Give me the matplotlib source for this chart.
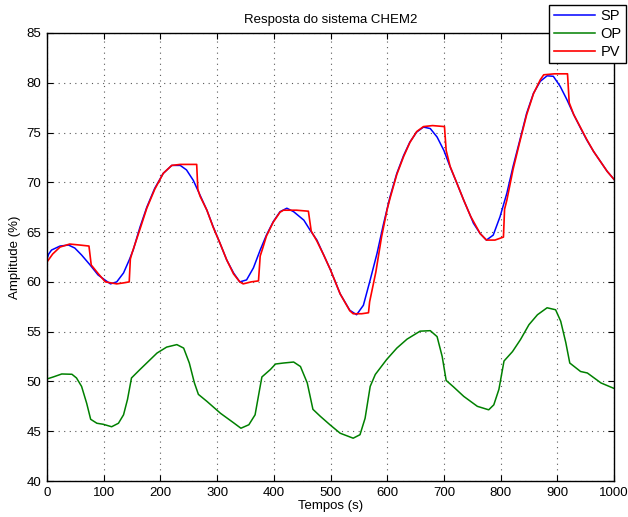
import matplotlib
matplotlib.use('Agg')
import matplotlib.pyplot as plt

plt.rcParams['font.family'] = ['Liberation Sans', 'DejaVu Sans']

# setpoint (SP)
sp_t = [0, 3, 8, 23, 38, 49, 61, 76, 90, 102, 112, 123, 135, 145, 152, 164, 176,
        190, 205, 220, 235, 246, 258, 270, 282, 293, 305, 317, 329, 340, 352, 364,
        376, 387, 399, 411, 423, 435, 453, 464, 476, 488, 500, 517, 534, 546, 558,
        570, 582, 593, 605, 617, 629, 640, 652, 664, 676, 688, 700, 711, 723, 735,
        747, 752, 764, 775, 787, 799, 811, 822, 834, 846, 858, 870, 882, 893, 905,
        917, 929, 941, 952, 964, 976, 988, 1000]
sp_v = [62.3, 62.8, 63.2, 63.6, 63.7, 63.4, 62.7, 61.7, 60.7, 60.2, 59.8, 60.0, 60.9,
        62.2, 63.2, 65.5, 67.5, 69.4, 70.9, 71.7, 71.7, 71.25, 70.2, 68.7, 67.2, 65.55,
        63.9, 62.2, 60.9, 60.0, 60.2, 61.4, 63.2, 64.7, 66.05, 67.05, 67.4, 67.05, 66.2,
        65.2, 64.2, 62.7, 61.2, 58.8, 57.15, 56.7, 57.65, 60.2, 62.85, 65.7, 68.55, 70.9,
        72.7, 74.05, 75.05, 75.55, 75.4, 74.55, 73.2, 71.55, 69.9, 68.2, 66.6, 65.9,
        64.85, 64.2, 64.7, 66.55, 68.9, 71.6, 74.25, 76.95, 78.95, 80.15, 80.7, 80.65,
        79.65, 78.3, 76.8, 75.45, 74.25, 73.1, 72.1, 71.1, 70.3]

# controller output (OP)
op_t = [0, 11, 26, 44, 52, 61, 70, 77, 88, 99, 114, 126, 135, 142, 149, 164, 194,
        211, 229, 241, 251, 260, 267, 282, 306, 329, 342, 356, 367, 375, 379, 394,
        403, 417, 435, 447, 459, 469, 482, 499, 517, 540, 552, 561, 570, 579, 599,
        617, 635, 658, 676, 688, 697, 704, 717, 735, 759, 779, 788, 797, 806, 821,
        835, 850, 865, 882, 897, 906, 915, 922, 941, 953, 977, 1000]
op_v = [50.25, 50.45, 50.75, 50.72, 50.35, 49.5, 47.8, 46.2, 45.8, 45.7, 45.45, 45.8,
        46.65, 48.2, 50.35, 51.2, 52.85, 53.45, 53.7, 53.35, 51.85, 49.85, 48.7, 48.0,
        46.8, 45.85, 45.3, 45.65, 46.65, 49.2, 50.45, 51.2, 51.75, 51.85, 51.95, 51.5,
        49.85, 47.2, 46.5, 45.65, 44.8, 44.3, 44.65, 46.3, 49.5, 50.7, 52.2, 53.35,
        54.25, 55.05, 55.1, 54.5, 52.5, 50.1, 49.45, 48.5, 47.5, 47.15, 47.65, 49.2,
        52.05, 53.0, 54.2, 55.7, 56.7, 57.4, 57.2, 56.05, 53.9, 51.85, 51.0, 50.85,
        49.85, 49.3]

# process variable (PV)
pv_t = [0, 10, 23, 40, 58, 74, 78, 90, 103, 123, 135, 145, 147, 150, 164, 176, 190,
        205, 220, 235, 250, 264, 266, 270, 282, 293, 305, 317, 329, 340, 346, 360,
        373, 376, 380, 387, 399, 411, 417, 440, 461, 466, 476, 488, 500, 517, 534,
        540, 555, 567, 569, 580, 590, 600, 605, 617, 629, 640, 652, 664, 680, 701,
        704, 711, 723, 735, 747, 764, 775, 790, 805, 807, 811, 822, 834, 846, 858,
        870, 876, 895, 918, 921, 929, 941, 952, 964, 976, 988, 1000]
pv_v = [62.0, 62.8, 63.5, 63.8, 63.7, 63.6, 61.7, 60.85, 60.0, 59.8, 59.9, 60.0, 62.3,
        62.9, 65.3, 67.4, 69.3, 70.9, 71.7, 71.8, 71.8, 71.8, 69.3, 68.6, 67.2, 65.5,
        63.9, 62.2, 60.8, 60.0, 59.8, 60.0, 60.1, 62.6, 63.3, 64.6, 66.0, 67.0, 67.2,
        67.2, 67.1, 65.1, 64.1, 62.7, 61.2, 58.8, 57.1, 56.8, 56.8, 56.9, 58.0, 61.0,
        64.5, 67.3, 68.4, 70.8, 72.6, 74.0, 75.1, 75.6, 75.7, 75.6, 73.2, 71.6, 69.9,
        68.2, 66.6, 64.85, 64.2, 64.2, 64.5, 67.3, 68.2, 71.3, 74.1, 76.8, 78.9, 80.3,
        80.8, 80.9, 80.9, 78.0, 76.8, 75.5, 74.3, 73.1, 72.1, 71.1, 70.3]

fig = plt.figure(figsize=(6.28, 5.17), dpi=100)
ax = fig.add_axes([47/628, 1 - 481/517, 567/628, 448/517])

ax.plot(sp_t, sp_v, color='#0000ff', lw=1.1, label='SP')
ax.plot(op_t, op_v, color='#008000', lw=1.1, label='OP')
ax.plot(pv_t, pv_v, color='#ff0000', lw=1.2, label='PV')

ax.set_xlim(0, 1000)
ax.set_ylim(40, 85)
ax.set_xticks(range(0, 1001, 100))
ax.set_yticks(range(40, 86, 5))
ax.grid(True, linestyle=(0, (1, 4)), color='0.35', lw=0.8)
ax.tick_params(direction='in', top=True, right=True, length=4, width=0.8,
               labelsize=9.5, pad=4)
for s in ax.spines.values():
    s.set_linewidth(1.0)

ax.set_title('Resposta do sistema CHEM2', fontsize=9.5, pad=7)
ax.set_xlabel('Tempos (s)', fontsize=9.5, labelpad=1)
ax.set_ylabel('Amplitude (%)', fontsize=9.5, labelpad=4)

leg = fig.legend(loc='upper right', bbox_to_anchor=(626/628, 1 - 5/517),
                 fontsize=10.5, frameon=True, fancybox=False, handlelength=2.8,
                 borderpad=0.3, labelspacing=0.25, handletextpad=0.4,
                 borderaxespad=0)
leg.get_frame().set_edgecolor('k')
leg.get_frame().set_linewidth(1.0)
leg.get_frame().set_alpha(1)

fig.savefig('out.png', dpi=100)
